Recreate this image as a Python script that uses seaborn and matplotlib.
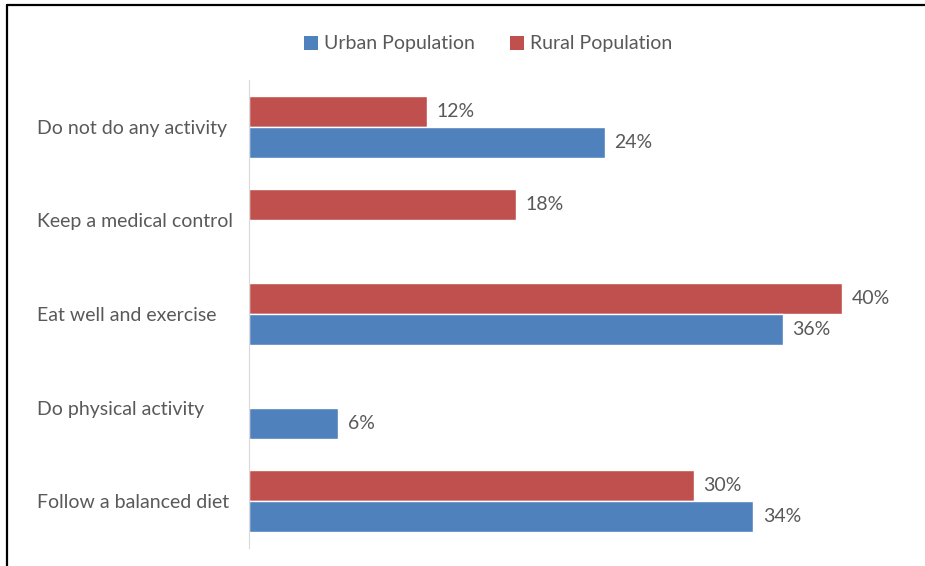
import numpy as np
import pandas as pd
import seaborn as sns
import matplotlib.pyplot as plt
from matplotlib.patches import Patch
from matplotlib.lines import Line2D

categories = [
    "Do not do any activity",
    "Keep a medical control",
    "Eat well and exercise",
    "Do physical activity",
    "Follow a balanced diet",
]
urban = [24, np.nan, 36, 6, 34]
rural = [12, 18, 40, np.nan, 30]

series_names = ["Urban Population", "Rural Population"]
colors = {"Urban Population": "#4F81BD", "Rural Population": "#C0504D"}

df = pd.DataFrame({
    "category": categories * 2,
    "population": [series_names[0]] * len(categories) + [series_names[1]] * len(categories),
    "value": urban + rural,
})

sns.set_style("white")
plt.rcParams["font.family"] = ["Lato", "DejaVu Sans"]

fig = plt.figure(figsize=(9.25, 5.66), dpi=100)
ax = fig.add_axes([249 / 925, 1 - 548 / 566, (842 - 249) / 925, (548 - 80) / 566])

# rural drawn on top within each group
sns.barplot(
    data=df, y="category", x="value", hue="population",
    hue_order=["Rural Population", "Urban Population"],
    order=categories, palette=colors, orient="h",
    width=0.667, ax=ax, legend=False, saturation=1,
)

for c in ax.containers:
    labels = []
    for b in c:
        w = b.get_width()
        labels.append("" if (w is None or np.isnan(w) or w == 0) else f"{w:.0f}%")
    ax.bar_label(c, labels=labels, padding=7, fontsize=14, color="#595959")

ax.set_xlim(0, 40)
ax.set_xlabel("")
ax.set_ylabel("")
ax.set_xticks([])
for s in ["top", "right", "bottom"]:
    ax.spines[s].set_visible(False)
ax.spines["left"].set_color("#D9D9D9")
ax.tick_params(axis="y", length=0, pad=(249 - 37) * 0.72, labelsize=14, labelcolor="#595959")
for t in ax.get_yticklabels():
    t.set_ha("left")

handles = [Patch(facecolor=colors[n], edgecolor="none") for n in series_names]
fig.legend(handles, series_names, loc="center", bbox_to_anchor=(488 / 925, 1 - 44 / 566),
           ncol=2, frameon=False, fontsize=14, labelcolor="#595959",
           handlelength=0.75, handleheight=0.75, handletextpad=0.3, columnspacing=1.8)

# screenshot frame
fig.add_artist(Line2D([7 / 925, 1], [1 - 5 / 566, 1 - 5 / 566], color="black", lw=1.6, transform=fig.transFigure))
fig.add_artist(Line2D([7 / 925, 7 / 925], [0, 1 - 5 / 566], color="black", lw=1.6, transform=fig.transFigure))

fig.savefig("out.png", dpi=100)
